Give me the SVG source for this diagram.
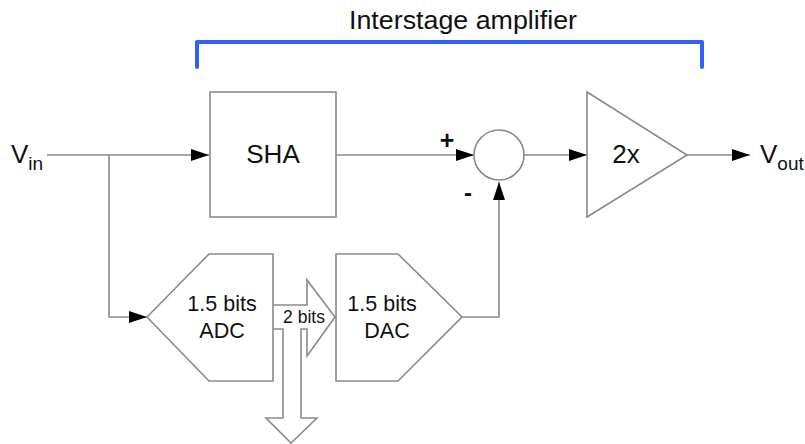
<svg xmlns="http://www.w3.org/2000/svg" width="805" height="444" viewBox="0 0 805 444">
<style>
.s{fill:#fff;stroke:#8a8a8a;stroke-width:1.6;stroke-linejoin:miter}
.c{fill:none;stroke:#8a8a8a;stroke-width:1.6}
text{font-family:"Liberation Sans",Arial,sans-serif;fill:#111;text-anchor:middle}
.l{font-size:26px}
.m{font-size:21.5px}
.e{text-anchor:start}
</style>
<defs>
<marker id="a" markerUnits="userSpaceOnUse" markerWidth="18" markerHeight="14" refX="18" refY="7" orient="auto"><path d="M0 1L18 7L0 13Z" fill="#000"/></marker>
</defs>
<rect width="805" height="444" fill="#fff"/>
<g id="connectors">
<path class="c" d="M47 155H209" marker-end="url(#a)"/>
<path class="c" d="M109 155V317H147" marker-end="url(#a)"/>
<path class="c" d="M336 155H474" marker-end="url(#a)"/>
<path class="c" d="M524 155H587" marker-end="url(#a)"/>
<path class="c" d="M687 155H750" marker-end="url(#a)"/>
<path class="c" d="M462 317H499V182" marker-end="url(#a)"/>
</g>
<g id="bracket"><path d="M197 67V42H702V67" fill="none" stroke="#2f62f5" stroke-width="4" stroke-linecap="round" stroke-linejoin="round"/></g>
<text x="463" y="29" style="font-size:26px" textLength="228" lengthAdjust="spacingAndGlyphs">Interstage amplifier</text>
<g id="vin"><text class="l e" x="11" y="163">V<tspan font-size="19" dy="7">in</tspan></text></g>
<g id="sha"><rect class="s" x="210" y="92" width="126" height="125"/><text class="l" x="273" y="163">SHA</text></g>
<g id="sum"><circle class="s" cx="499" cy="155" r="25"/><text x="447" y="149" style="font-size:25px;font-weight:bold">+</text><text x="468" y="201" style="font-size:24px;font-weight:bold">-</text></g>
<g id="gain"><path class="s" d="M587 92L687 155L587 217Z"/><text class="l" x="626" y="163">2x</text></g>
<g id="vout"><text class="l e" x="760" y="163">V<tspan font-size="19" dy="7">out</tspan></text></g>
<g id="adc"><path class="s" d="M147 317L209 254H273V381H209Z"/><text class="m" x="222" y="311">1.5 bits</text><text class="m" x="222" y="338">ADC</text></g>
<g id="dac"><path class="s" d="M336 254H398L462 317L398 381H336Z"/><text class="m" x="382" y="311">1.5 bits</text><text class="m" x="387" y="338">DAC</text></g>
<g id="bits"><path class="c" d="M273 305H307V280L335 317L307 356V329H301V418H317L291 443L266 418H283V329H273"/><rect x="281" y="308" width="44" height="20" fill="#fff"/><text x="304" y="323" style="font-size:17.5px">2 bits</text></g>
</svg>
